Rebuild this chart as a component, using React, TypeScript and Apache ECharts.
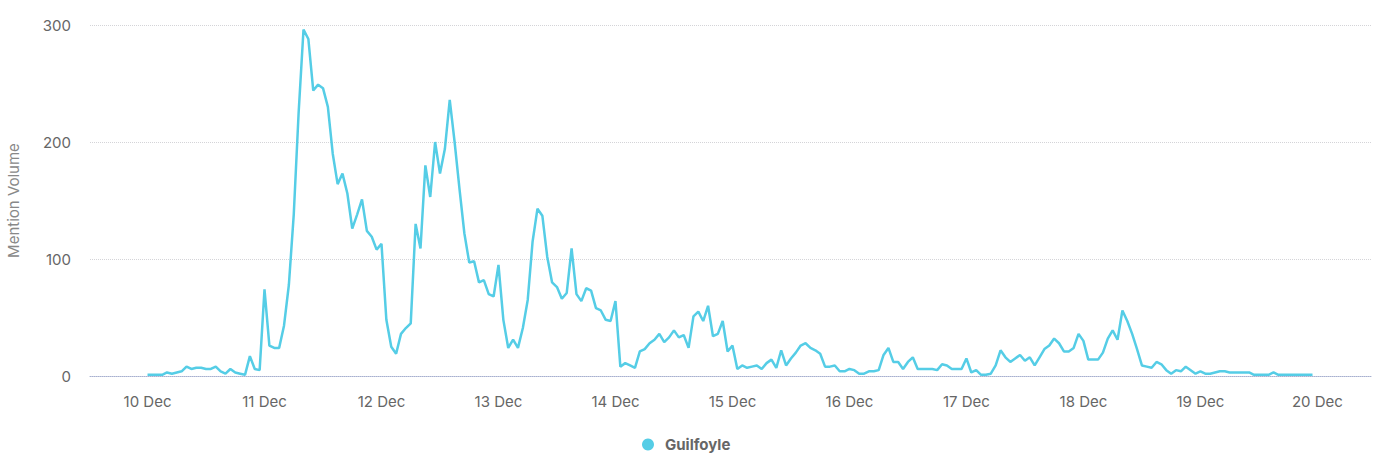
import React, { useEffect, useRef } from "react";
import * as echarts from "echarts";

const SERIES_NAME = "Guilfoyle";
const START_UTC = Date.UTC(2024, 11, 10, 0, 0, 0); // 10 Dec 00:00, hourly samples
const HOUR = 3600 * 1000;
const MONTHS = ["Jan", "Feb", "Mar", "Apr", "May", "Jun", "Jul", "Aug", "Sep", "Oct", "Nov", "Dec"];
const Y_TICKS = [0, 100, 200, 300];

// hourly mention volume, 10 Dec 00:00 .. 19 Dec 23:00
const day10 = [1, 1, 1, 1, 3, 2, 3, 4, 8, 6, 7, 7, 6, 6, 8, 4, 2, 6, 3, 2, 1, 17, 6, 5];
const day11 = [74, 26, 24, 24, 43, 78, 138, 225, 296, 288, 244, 249, 246, 230, 190, 164, 173, 156, 126, 138, 151, 124, 119, 108];
const day12 = [113, 48, 25, 19, 36, 41, 45, 130, 109, 180, 153, 200, 173, 194, 236, 200, 160, 122, 97, 98, 80, 82, 70, 68];
const day13 = [95, 48, 24, 31, 24, 41, 65, 115, 143, 137, 102, 80, 76, 66, 71, 109, 70, 64, 75, 73, 58, 56, 48, 47];
const day14 = [64, 8, 11, 9, 7, 21, 23, 28, 31, 36, 29, 33, 39, 33, 35, 24, 51, 55, 47, 60, 34, 36, 47, 21];
const day15 = [26, 6, 9, 7, 8, 9, 6, 11, 14, 7, 22, 9, 15, 20, 26, 28, 24, 22, 19, 8, 8, 9, 4, 4];
const day16 = [6, 5, 2, 2, 4, 4, 5, 18, 24, 12, 12, 6, 12, 16, 6, 6, 6, 6, 5, 10, 9, 6, 6, 6];
const day17 = [15, 3, 5, 1, 1, 2, 9, 22, 16, 12, 15, 18, 13, 16, 9, 16, 23, 26, 32, 28, 21, 21, 24, 36];
const day18 = [30, 14, 14, 14, 20, 32, 39, 31, 56, 47, 36, 23, 9, 8, 7, 12, 10, 5, 2, 5, 4, 8, 5, 2];
const day19 = [4, 2, 2, 3, 4, 4, 3, 3, 3, 3, 3, 1, 1, 1, 1, 3, 1, 1, 1, 1, 1, 1, 1, 1];

const volumes = [...day10, ...day11, ...day12, ...day13, ...day14, ...day15, ...day16, ...day17, ...day18, ...day19];
const timestamps = volumes.map((_, i) => START_UTC + i * HOUR);

export default function App() {
  const ref = useRef<HTMLDivElement>(null);

  useEffect(() => {
    if (!ref.current) return;
    const chart = echarts.init(ref.current, null, { renderer: "svg" });
    const font = "Inter, 'Noto Sans', sans-serif";
    chart.setOption({
      animation: false,
      useUTC: true,
      textStyle: { fontFamily: font },
      grid: { left: 90, right: 4, top: 25, bottom: 83, containLabel: false, outerBoundsMode: "none" },
      legend: {
        data: [SERIES_NAME],
        top: 432,
        left: 637,
        icon: "circle",
        itemWidth: 24,
        itemHeight: 12,
        itemGap: 10,
        textStyle: { color: "#666", fontSize: 15, fontWeight: "bold", fontFamily: font },
      },
      xAxis: {
        type: "time",
        min: START_UTC - 11.8 * HOUR,
        max: START_UTC + 240 * HOUR + 11 * HOUR,
        minInterval: 24 * HOUR,
        maxInterval: 24 * HOUR,
        axisLine: { show: true, lineStyle: { color: "#a7b0cf", type: "dotted", width: 1 } },
        axisTick: { show: false },
        splitLine: { show: false },
        axisLabel: {
          color: "#666",
          fontSize: 15,
          margin: 18,
          fontFamily: font,
          hideOverlap: false,
          formatter: (v: number) => {
            const d = new Date(v);
            return `${d.getUTCDate()} ${MONTHS[d.getUTCMonth()]}`;
          },
        },
      },
      yAxis: {
        type: "value",
        min: Y_TICKS[0],
        max: Y_TICKS[Y_TICKS.length - 1],
        interval: Y_TICKS[1] - Y_TICKS[0],
        name: "Mention Volume",
        nameLocation: "middle",
        nameGap: 69,
        nameTextStyle: { color: "#888", fontSize: 15, fontFamily: font },
        axisLine: { show: false },
        axisTick: { show: false },
        axisLabel: { color: "#666", fontSize: 15, margin: 19, fontFamily: font },
        splitLine: { show: true, lineStyle: { color: "#d4d4d8", type: "dotted", width: 1 } },
      },
      series: [
        {
          name: SERIES_NAME,
          type: "line",
          data: timestamps.map((t, i) => [t, volumes[i]]),
          showSymbol: false,
          symbol: "circle",
          itemStyle: { color: "#55cde6" },
          lineStyle: { color: "#55cde6", width: 2.5 },
        },
      ],
    });
    return () => chart.dispose();
  }, []);

  return (
    <div
      ref={ref}
      style={{ position: "fixed", left: 0, top: 0, width: 1375, height: 459, background: "#fff" }}
    />
  );
}
